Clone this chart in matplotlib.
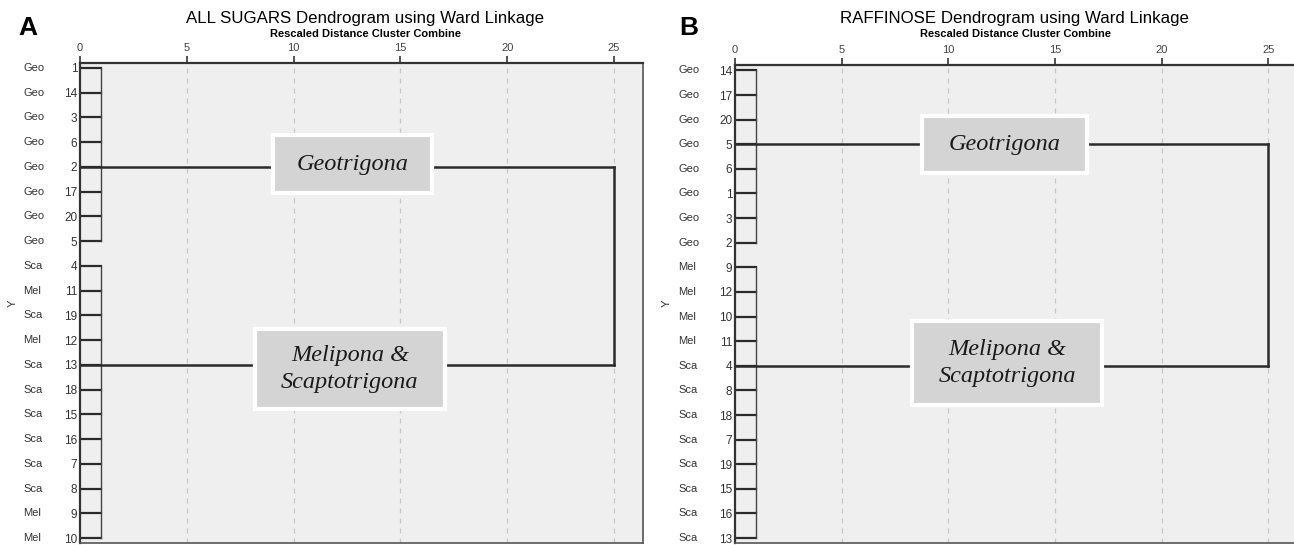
import matplotlib
matplotlib.use("Agg")
import matplotlib.pyplot as plt
from matplotlib.patches import Rectangle
from matplotlib.transforms import blended_transform_factory

plt.rcParams['font.family'] = ['Liberation Sans', 'DejaVu Sans']

# leaf order, genus tags and merge layout for each dendrogram
leaves_a = [1, 14, 3, 6, 2, 17, 20, 5, 4, 11, 19, 12, 13, 18, 15, 16, 7, 8, 9, 10]
genus_a = ['Geo'] * 8 + ['Sca', 'Mel', 'Sca', 'Mel', 'Sca', 'Sca', 'Sca', 'Sca',
                         'Sca', 'Sca', 'Mel', 'Mel']
clusters_a = [(0, 7), (8, 19)]     # first/last leaf row of each cluster
link_rows_a = [4, 12]              # row where each cluster leaves its bracket

leaves_b = [14, 17, 20, 5, 6, 1, 3, 2, 9, 12, 10, 11, 4, 8, 18, 7, 19, 15, 16, 13]
genus_b = ['Geo'] * 8 + ['Mel'] * 4 + ['Sca'] * 8
clusters_b = [(0, 7), (8, 19)]
link_rows_b = [3, 12]

leaf_dist = 1.0     # rescaled distance where leaves join inside a genus
merge_dist = 25.0   # rescaled distance of the final merge
cluster_names = ['Geotrigona', 'Melipona &\nScaptotrigona']
xticks = [0, 5, 10, 15, 20, 25]

line_c = '#2b2b2b'


def draw_panel(ax, leaves, genus, clusters, link_rows, boxes, xmax, ylim, right_spine=True):
    n = len(leaves)
    ax.set_facecolor('#efefef')
    ax.set_xlim(0, xmax)
    ax.set_ylim(*ylim)

    # dashed guides
    for t in xticks[1:]:
        ax.axvline(t, color='#c8c8c8', lw=0.9, ls=(0, (4, 4)), zorder=0)

    # leaves
    for r in range(n):
        ax.plot([0, leaf_dist], [r, r], color=line_c, lw=1.6, zorder=2)
    for (r0, r1) in clusters:
        ax.plot([leaf_dist, leaf_dist], [r0, r1], color='#444444', lw=1.0, zorder=2)

    # cluster links and final merge
    for r in link_rows:
        ax.plot([0, merge_dist], [r, r], color=line_c, lw=1.8, zorder=2)
    ax.plot([merge_dist, merge_dist], [link_rows[0], link_rows[1]],
            color=line_c, lw=1.8, zorder=2)

    # cluster name boxes
    for name, (cx, cy, w, h) in zip(cluster_names, boxes):
        ax.add_patch(Rectangle((cx - w / 2, cy - h / 2), w, h, facecolor='#d4d4d4',
                               edgecolor='white', lw=3, zorder=4))
        ax.text(cx, cy, name, ha='center', va='center', fontsize=17.5,
                family='Liberation Serif', style='italic', color='#1a1a1a',
                linespacing=1.4, zorder=5)

    # axes frame
    for side in ['top', 'left']:
        ax.spines[side].set_color('#333333')
        ax.spines[side].set_linewidth(1.6)
    for side in ['bottom', 'right']:
        ax.spines[side].set_color('#555555')
        ax.spines[side].set_linewidth(1.2)
    ax.spines['right'].set_visible(right_spine)

    ax.xaxis.tick_top()
    ax.set_xticks(xticks)
    ax.set_xticklabels([str(t) for t in xticks])
    ax.tick_params(axis='x', direction='out', length=5, width=1.2, color='#333333',
                   labelsize=8, labelcolor='#444444', pad=2)
    ax.set_yticks(range(n))
    ax.set_yticklabels([str(v) for v in leaves])
    ax.tick_params(axis='y', length=0, pad=2, labelsize=8.5, labelcolor='#333333')

    trans = blended_transform_factory(ax.transAxes, ax.transData)
    for r, g in enumerate(genus):
        ax.text(-0.101, r, g, transform=trans, ha='left', va='center',
                fontsize=8, color='#333333')


fig = plt.figure(figsize=(12.94, 5.45), dpi=100)
W, H = 1294, 545

ax_a = fig.add_axes([80 / W, 2 / H, 563 / W, 480 / H])
draw_panel(ax_a, leaves_a, genus_a, clusters_a, link_rows_a,
           [(12.76, 3.89, 7.44, 2.35), (12.64, 12.16, 8.9, 3.24)],
           26.36, (19.2, -0.2))

ax_b = fig.add_axes([735 / W, 2 / H, 559 / W, 478 / H])
draw_panel(ax_b, leaves_b, genus_b, clusters_b, link_rows_b,
           [(12.64, 3.01, 7.74, 2.3), (12.76, 11.88, 8.91, 3.4)],
           26.2, (19.2, -0.22), right_spine=False)

# titles and panel letters
for cx, letter_x, title in [(365, 28, 'ALL SUGARS Dendrogram using Ward Linkage'),
                            (1015, 689, 'RAFFINOSE Dendrogram using Ward Linkage')]:
    fig.text(cx / W, 1 - 18 / H, title, ha='center', va='center', fontsize=12.2)
    fig.text(cx / W, 1 - 34 / H, 'Rescaled Distance Cluster Combine', ha='center',
             va='center', fontsize=8, fontweight='bold')
    fig.text(letter_x / W, 1 - 28 / H, 'A' if letter_x < 600 else 'B', ha='center',
             va='center', fontsize=19, fontweight='bold')

for x in [13, 667]:
    fig.text(x / W, 1 - 303 / H, 'Y', ha='center', va='center', rotation=90,
             fontsize=8, color='#333333')

fig.savefig('out.png', dpi=100)
